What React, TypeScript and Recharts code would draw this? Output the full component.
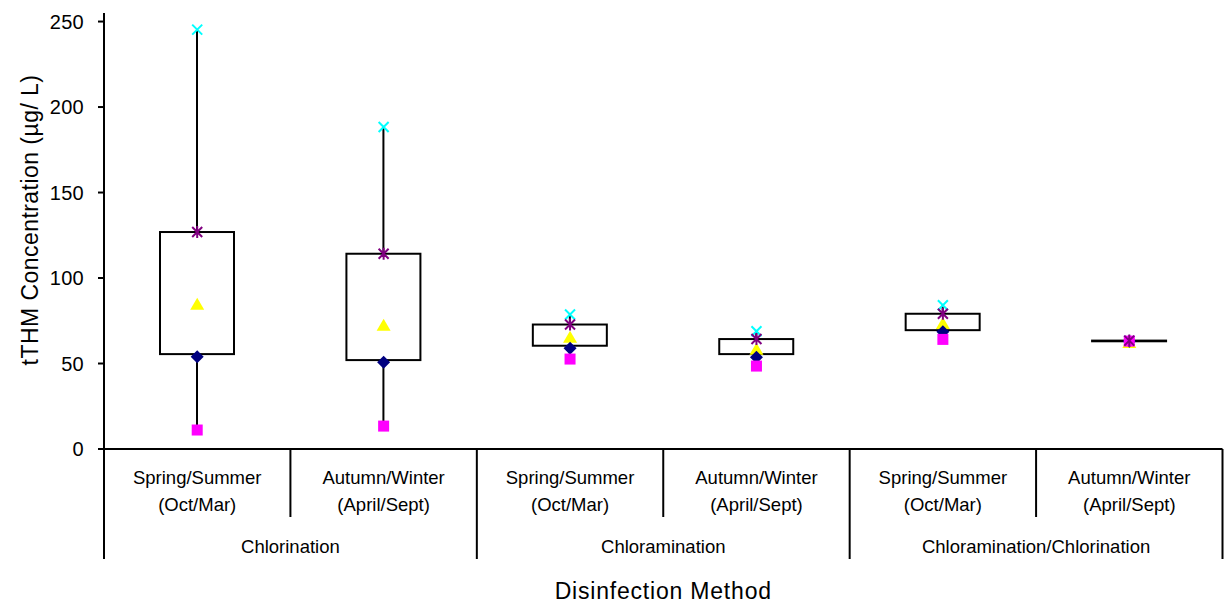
import React from 'react';
import { ComposedChart, Bar, Scatter, XAxis, YAxis, Label } from 'recharts';

// season labels (two lines) and disinfection groups
const seasonTop = ['Spring/Summer', 'Autumn/Winter', 'Spring/Summer', 'Autumn/Winter', 'Spring/Summer', 'Autumn/Winter'];
const seasonBottom = ['(Oct/Mar)', '(April/Sept)', '(Oct/Mar)', '(April/Sept)', '(Oct/Mar)', '(April/Sept)'];
const groups = ['Chlorination', 'Chloramination', 'Chloramination/Chlorination'];

// tTHM values (µg/L)
const maxVals = [245.3, 188.3, 78.7, 68.9, 84.1, 63.2];
const q3Vals = [126.9, 114.2, 72.8, 64.3, 79.1, 63.4];
const meanVals = [84.7, 72.4, 65.4, 58.3, 73.4, 62.3];
const boxLowVals = [55.5, 52.0, 60.4, 55.5, 69.5, 63.0];
const q1Vals = [54.0, 50.7, 58.9, 53.7, 68.6, 63.0];
const minVals = [11.1, 13.4, 52.6, 48.5, 64.1, 63.1];

const yTicks = [0, 50, 100, 150, 200, 250];

const W = 1224;
const H = 606;
const Y_AXIS_W = 104;
const X_AXIS_H = 157;
const MARGIN = { top: 13, right: 1.5, bottom: 0, left: 0 };
const FONT = '"Liberation Sans", Arial, sans-serif';
const BAND = (W - Y_AXIS_W - MARGIN.right - MARGIN.left) / seasonTop.length;

const data = seasonTop.map((_, i) => ({
  cat: i,
  base: minVals[i],
  lowW: boxLowVals[i] - minVals[i],
  box: q3Vals[i] - boxLowVals[i],
  highW: maxVals[i] - q3Vals[i],
  max: maxVals[i],
  q3: q3Vals[i],
  mean: meanVals[i],
  q1: q1Vals[i],
  min: minVals[i],
}));

const Whisker = (p: any) => {
  const cx = p.x + p.width / 2;
  return <line x1={cx} x2={cx} y1={p.y} y2={p.y + p.height} stroke="#000" strokeWidth={2} />;
};

const BoxShape = (p: any) => (
  <rect x={p.x} y={p.y} width={p.width} height={p.height} fill="none" stroke="#000" strokeWidth={2} />
);

const Empty = () => null;

const XMark = ({ cx, cy }: any) => (
  <path d={`M${cx - 5},${cy - 5}L${cx + 5},${cy + 5}M${cx + 5},${cy - 5}L${cx - 5},${cy + 5}`} stroke="#00FFFF" strokeWidth={2} fill="none" />
);

const StarMark = ({ cx, cy }: any) => (
  <path
    d={`M${cx - 5},${cy - 5}L${cx + 5},${cy + 5}M${cx + 5},${cy - 5}L${cx - 5},${cy + 5}M${cx},${cy - 6}L${cx},${cy + 6}`}
    stroke="#800080"
    strokeWidth={2}
    fill="none"
  />
);

const TriMark = ({ cx, cy }: any) => (
  <polygon points={`${cx},${cy - 6.5} ${cx + 7},${cy + 5.5} ${cx - 7},${cy + 5.5}`} fill="#FFFF00" />
);

const DiamondMark = ({ cx, cy }: any) => (
  <polygon points={`${cx},${cy - 6.5} ${cx + 6.5},${cy} ${cx},${cy + 6.5} ${cx - 6.5},${cy}`} fill="#000080" />
);

const SquareMark = ({ cx, cy }: any) => <rect x={cx - 5.5} y={cy - 5.5} width={11} height={11} fill="#FF00FF" />;

const CatTick = (props: any) => {
  const { x, y, payload } = props;
  const i = payload.index ?? payload.value;
  const left = x - BAND / 2;
  const right = x + BAND / 2;
  const isGroupStart = i % 2 === 0;
  const last = i === seasonTop.length - 1;
  return (
    <g fontFamily={FONT} fontSize={18.5} fill="#000">
      <line x1={left} x2={left} y1={y} y2={y + (isGroupStart ? 110 : 68)} stroke="#000" strokeWidth={2} />
      {last && <line x1={right} x2={right} y1={y} y2={y + 110} stroke="#000" strokeWidth={2} />}
      <text x={x} y={y + 35} textAnchor="middle">{seasonTop[i]}</text>
      <text x={x} y={y + 62} textAnchor="middle">{seasonBottom[i]}</text>
      {isGroupStart && (
        <text x={right} y={y + 104} textAnchor="middle">{groups[i / 2]}</text>
      )}
    </g>
  );
};

const ValueTick = (props: any) => {
  const { x, y, payload } = props;
  return (
    <text x={x} y={y} dy={7} textAnchor="end" fontFamily={FONT} fontSize={20} letterSpacing={0.3} fill="#000">
      {payload.value}
    </text>
  );
};

const YTitle = (props: any) => {
  const vb = props.viewBox;
  const tx = vb.x + 38;
  const ty = vb.y + vb.height / 2 - 11;
  return (
    <text x={tx} y={ty} transform={`rotate(-90, ${tx}, ${ty})`} textAnchor="middle" fontFamily={FONT} fontSize={23} letterSpacing={0.45} fill="#000">
      tTHM Concentration (µg/ L)
    </text>
  );
};

const XTitle = (props: any) => {
  const vb = props.viewBox;
  return (
    <text x={vb.x + vb.width / 2} y={vb.y + 150} textAnchor="middle" fontFamily={FONT} fontSize={23} letterSpacing={0.8} fill="#000">
      Disinfection Method
    </text>
  );
};

export default function App() {
  return (
    <div style={{ position: 'absolute', left: 0, top: 0, width: W, height: H, background: '#fff' }}>
      <ComposedChart width={W} height={H} data={data} margin={MARGIN} barSize={74}>
        <XAxis
          dataKey="cat"
          type="category"
          interval={0}
          height={X_AXIS_H}
          tickLine={false}
          tickSize={0}
          tickMargin={0}
          axisLine={{ stroke: '#000', strokeWidth: 2 }}
          tick={<CatTick />}
        >
          <Label content={<XTitle />} />
        </XAxis>
        <YAxis
          width={Y_AXIS_W}
          domain={[0, 255]}
          ticks={yTicks}
          interval={0}
          tickSize={6}
          tickMargin={14}
          axisLine={{ stroke: '#000', strokeWidth: 2 }}
          tickLine={{ stroke: '#000', strokeWidth: 2 }}
          tick={<ValueTick />}
        >
          <Label content={<YTitle />} />
        </YAxis>
        <Bar dataKey="base" stackId="b" shape={<Empty />} isAnimationActive={false} />
        <Bar dataKey="lowW" stackId="b" shape={<Whisker />} isAnimationActive={false} />
        <Bar dataKey="box" stackId="b" shape={<BoxShape />} isAnimationActive={false} />
        <Bar dataKey="highW" stackId="b" shape={<Whisker />} isAnimationActive={false} />
        <Scatter dataKey="max" shape={<XMark />} isAnimationActive={false} />
        <Scatter dataKey="mean" shape={<TriMark />} isAnimationActive={false} />
        <Scatter dataKey="q1" shape={<DiamondMark />} isAnimationActive={false} />
        <Scatter dataKey="min" shape={<SquareMark />} isAnimationActive={false} />
        <Scatter dataKey="q3" shape={<StarMark />} isAnimationActive={false} />
      </ComposedChart>
    </div>
  );
}
